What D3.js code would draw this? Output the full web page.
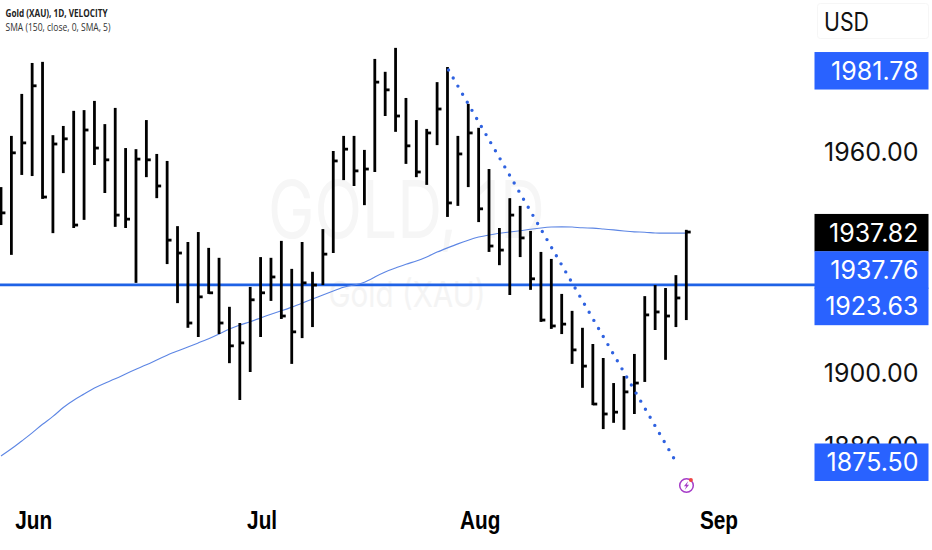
<!DOCTYPE html>
<html>
<head>
<meta charset="utf-8">
<script src="https://cdn.jsdelivr.net/npm/d3@7"></script>
<style>
  html, body { margin: 0; padding: 0; background: #fff; }
  svg { display: block; }
  text { font-family: Inter, "Liberation Sans", sans-serif; }
</style>
</head>
<body>
<div id="chart"></div>
<script>
// daily bars
var highs = [1950.2,1964.1,1975.5,1983.9,1984.2,1964.3,1966.8,1970.9,1971.1,1973.6,1967.3,1971.7,1960.8,1960.5,1968.4,1959.2,
  1957.3,1939.6,1935.3,1938.0,1933.7,1931.0,1917.7,1913.3,1923.1,1931.2,1931.0,1935.6,1928.0,1935.3,1927.2,1938.8,
  1960.0,1964.1,1964.1,1960.3,1985.0,1981.5,1988.0,1974.4,1968.4,1966.0,1978.7,1982.8,1964.1,1972.8,1966.3,1955.1,
  1939.1,1947.2,1945.1,1938.3,1932.6,1930.7,1921.2,1916.6,1912.0,1907.6,1903.8,1897.0,1898.9,1904.9,1920.6,1923.6,
  1922.8,1926.3,1938.6];
var lows = [1939.9,1931.8,1953.5,1953.2,1947.0,1937.7,1954.0,1939.1,1941.3,1956.2,1948.6,1939.4,1939.1,1924.2,1952.9,1947.2,
  1929.3,1918.7,1912.0,1909.5,1921.2,1910.3,1902.4,1892.4,1900.0,1909.5,1919.3,1914.4,1902.2,1909.2,1912.2,1923.6,
  1932.3,1952.1,1950.5,1945.3,1954.3,1969.5,1965.2,1956.5,1952.9,1950.8,1961.6,1942.1,1945.1,1950.2,1940.7,1932.6,
  1929.0,1920.9,1931.2,1922.3,1913.6,1911.7,1910.3,1902.2,1895.7,1891.0,1884.5,1886.2,1884.3,1888.6,1897.3,1911.4,
  1903.3,1912.2,1914.1];
var closes = [1943.2,1959.5,1962.2,1977.7,1947.5,1961.9,1963.3,1939.9,1965.7,1960.8,1957.6,1942.6,1941.5,1957.8,1957.6,1950.5,
  1935.8,1932.3,1913.3,1920.4,1921.5,1913.3,1907.1,1907.9,1919.6,1921.5,1925.8,1915.2,1910.9,1924.2,1923.6,1932.0,
  1957.3,1960.5,1954.6,1955.1,1978.7,1976.6,1969.5,1961.4,1954.3,1964.9,1971.4,1945.9,1959.2,1964.9,1944.3,1934.2,
  1933.1,1942.6,1936.4,1925.3,1914.1,1912.5,1913.0,1906.0,1901.6,1891.3,1888.6,1889.1,1894.6,1897.0,1915.5,1916.3,
  1915.2,1920.1,1938.0];
var sma = [1877.2,1879.1,1881.3,1883.4,1885.9,1887.8,1890.5,1892.4,1894.0,1895.7,1897.0,1898.1,1899.5,1900.8,1901.9,1903.3,
  1904.6,1905.7,1906.8,1907.9,1909.0,1910.3,1911.7,1912.8,1913.6,1914.7,1915.7,1916.6,1917.6,1918.7,1919.8,1920.9,
  1922.0,1923.1,1923.6,1924.2,1925.8,1927.2,1928.2,1929.3,1930.1,1931.2,1932.6,1933.7,1934.8,1935.8,1936.7,1937.2,
  1937.7,1938.0,1938.3,1938.8,1939.1,1939.4,1939.4,1939.4,1939.1,1939.1,1938.8,1938.6,1938.3,1938.0,1938.0,1937.7,
  1937.7,1937.7,1937.7];

var hLevel = 1923.63;
var trendIdx = [43.1, 64.8];
var trendPrice = [1982.0, 1876.6];

var monthLabels = ["Jun", "Jul", "Aug", "Sep"];
var monthIdx = [3.1, 25.1, 46.1, 69.1];
var priceTicks = [1960, 1900, 1880];

// [text, price the tag sits on, background]
var tagText = ["1981.78", "1937.82", "1937.76", "1923.63", "1875.50"];
var tagPrice = [1981.78, 1937.82, 1927.7, 1917.8, 1875.5];
var tagColor = ["#2962ff", "#000000", "#2962ff", "#2962ff", "#2962ff"];

var width = 932, height = 550;

var svg = d3.select("#chart").append("svg").attr("width", width).attr("height", height);

var x = d3.scaleLinear().domain([0, 66]).range([1, 686.3]);
var y = d3.scaleLinear().domain([1900, 1960]).range([372, 151]);

// watermark
svg.append("text").attr("x", 406.5).attr("y", 238).attr("text-anchor", "middle")
  .style("font-size", "80px").attr("fill", "#f6f6f6").attr("textLength", 277)
  .attr("lengthAdjust", "spacingAndGlyphs").text("GOLD, 1D");
svg.append("text").attr("x", 407).attr("y", 307).attr("text-anchor", "middle")
  .style("font-size", "36px").attr("fill", "#f4f4f4").attr("textLength", 157)
  .attr("lengthAdjust", "spacingAndGlyphs").text("Gold (XAU)");

// level
svg.append("line").attr("x1", 0).attr("x2", 815)
  .attr("y1", y(hLevel)).attr("y2", y(hLevel))
  .attr("stroke", "#1f62e6").attr("stroke-width", 2.8);

// sma
var smaLine = d3.line().x(function(d, i) { return x(i); }).y(function(d) { return y(d); }).curve(d3.curveBasis);
svg.append("path").datum(sma).attr("d", smaLine)
  .attr("fill", "none").attr("stroke", "#5d86e4").attr("stroke-width", 1.1);

// ohlc bars, only the close tick shows
var bars = svg.append("g").selectAll("g").data(highs).enter().append("g");
bars.append("line")
  .attr("x1", function(d, i) { return x(i); })
  .attr("x2", function(d, i) { return x(i); })
  .attr("y1", function(d) { return y(d); })
  .attr("y2", function(d, i) { return y(lows[i]); })
  .attr("stroke", "#000").attr("stroke-width", 2.8);
bars.append("line")
  .attr("x1", function(d, i) { return x(i); })
  .attr("x2", function(d, i) { return x(i) + 4.4; })
  .attr("y1", function(d, i) { return y(closes[i]); })
  .attr("y2", function(d, i) { return y(closes[i]); })
  .attr("stroke", "#000").attr("stroke-width", 2.8);

// trend line
svg.append("line")
  .attr("x1", x(trendIdx[0])).attr("x2", x(trendIdx[1]))
  .attr("y1", y(trendPrice[0])).attr("y2", y(trendPrice[1]))
  .attr("stroke", "#2f62e0").attr("stroke-width", 3.4)
  .attr("stroke-linecap", "round").attr("stroke-dasharray", "0 9.34");

// header
svg.append("text").attr("x", 5.5).attr("y", 17).style("font-size", "10.4px").style("font-weight", 700)
  .style("font-family", "'Open Sans', sans-serif").attr("fill", "#222").attr("textLength", 102)
  .attr("lengthAdjust", "spacingAndGlyphs").text("Gold (XAU), 1D, VELOCITY");
svg.append("text").attr("x", 5.5).attr("y", 31).style("font-size", "10.4px")
  .style("font-family", "'Open Sans', sans-serif").attr("fill", "#333").attr("textLength", 105)
  .attr("lengthAdjust", "spacingAndGlyphs").text("SMA (150, close, 0, SMA, 5)");

// time axis
var xAxis = d3.axisBottom(x).tickValues(monthIdx)
  .tickFormat(function(d, i) { return monthLabels[i]; }).tickSize(0);
var xG = svg.append("g").attr("transform", "translate(0,529)").call(xAxis);
xG.select(".domain").remove();
xG.selectAll("text").attr("y", 0).attr("dy", 0).attr("fill", "#000")
  .style("font-family", "'Liberation Sans', sans-serif").style("font-size", "26px").style("font-weight", 700)
  .each(function() {
    // the labels are squeezed in the original
    d3.select(this).attr("textLength", this.getComputedTextLength() * 0.8).attr("lengthAdjust", "spacingAndGlyphs");
  });

// price axis
var yAxis = d3.axisRight(y).tickValues(priceTicks).tickFormat(d3.format(".2f")).tickSize(0);
var yG = svg.append("g").attr("transform", "translate(918.5,0)").call(yAxis);
yG.select(".domain").remove();
yG.selectAll("text").attr("x", 0).attr("text-anchor", "end").attr("dy", "0.36em").attr("fill", "#111")
  .style("font-size", "25px");

// currency box
svg.append("rect").attr("x", 817.5).attr("y", 3.5).attr("width", 111).attr("height", 35).attr("rx", 3)
  .attr("fill", "#fff").attr("stroke", "#f6f6f6");
svg.append("text").attr("x", 824).attr("y", 31).style("font-size", "25px").attr("fill", "#111")
  .attr("textLength", 45).attr("lengthAdjust", "spacingAndGlyphs").text("USD");

// price tags
var tags = svg.append("g").selectAll("g").data(tagText).enter().append("g");
tags.append("rect").attr("x", 814.5).attr("width", 114).attr("height", 37.5)
  .attr("y", function(d, i) { return y(tagPrice[i]) - 18.75; })
  .attr("fill", function(d, i) { return tagColor[i]; });
tags.append("text").attr("x", 918.5).attr("text-anchor", "end").attr("dy", "0.36em")
  .attr("y", function(d, i) { return y(tagPrice[i]); })
  .attr("fill", "#fff").style("font-size", "25px").text(function(d) { return d; });

// alert icon
var icon = svg.append("g").attr("transform", "translate(686.5,485.5)");
icon.append("circle").attr("r", 6.8).attr("fill", "#fff").attr("stroke", "#a63cc8").attr("stroke-width", 1.5);
icon.append("path").attr("d", "M1.8,-4.4 L-2.6,0.8 L-0.2,0.8 L-1.8,4.4 L2.6,-0.8 L0.2,-0.8 Z").attr("fill", "#a63cc8");
icon.append("circle").attr("cx", 4.4).attr("cy", -5.4).attr("r", 2).attr("fill", "#ee4444");
</script>
</body>
</html>
